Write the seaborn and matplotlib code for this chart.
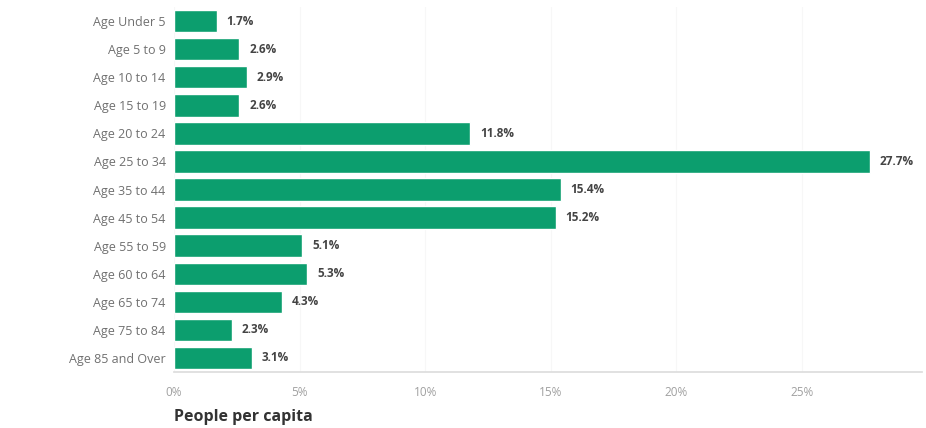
import matplotlib
matplotlib.use("Agg")
import matplotlib.pyplot as plt
import seaborn as sns
import pandas as pd

categories = ["Age Under 5", "Age 5 to 9", "Age 10 to 14", "Age 15 to 19", "Age 20 to 24",
              "Age 25 to 34", "Age 35 to 44", "Age 45 to 54", "Age 55 to 59", "Age 60 to 64",
              "Age 65 to 74", "Age 75 to 84", "Age 85 and Over"]
values = [1.7, 2.6, 2.9, 2.6, 11.8, 27.7, 15.4, 15.2, 5.1, 5.3, 4.3, 2.3, 3.1]
tick_values = [0, 5, 10, 15, 20, 25]
tick_labels = ["0%", "5%", "10%", "15%", "20%", "25%"]
x_title = "People per capita"

sns.set_theme(style="white")
plt.rcParams['font.family'] = ['Open Sans', 'DejaVu Sans']

df = pd.DataFrame({"cat": categories, "val": values})
fig = plt.figure(figsize=(9.26, 4.28), dpi=100)
ax = fig.add_axes([174/926, 56/428, 1 - 174/926 - 0.004, (428-56-7)/428])
sns.barplot(data=df, x="val", y="cat", color="#0c9e6e", saturation=1, width=0.8, ax=ax)
ax.set_xlim(0, 29.8)
ax.set_xticks(tick_values)
ax.set_xticklabels(tick_labels, color="#a0a0a0", fontsize=8.5)
ax.tick_params(axis="y", labelsize=9, labelcolor="#707070", length=0, pad=6)
ax.tick_params(axis="x", length=0, pad=10)
ax.set_ylabel("")
ax.set_xlabel(x_title, fontsize=11.5, fontweight="bold", color="#333333", loc="left", labelpad=7)
for s in ["top", "right", "left"]:
    ax.spines[s].set_visible(False)
ax.spines["bottom"].set_color("#dddddd")
ax.xaxis.grid(True, color="#f7f7f7", linewidth=0.8)
ax.set_axisbelow(True)
for i, v in enumerate(values):
    ax.text(v + 0.4, i, f"{v}%", va="center", ha="left", fontsize=8.5, fontweight="bold", color="#444444")
fig.savefig("out.png", dpi=100)
